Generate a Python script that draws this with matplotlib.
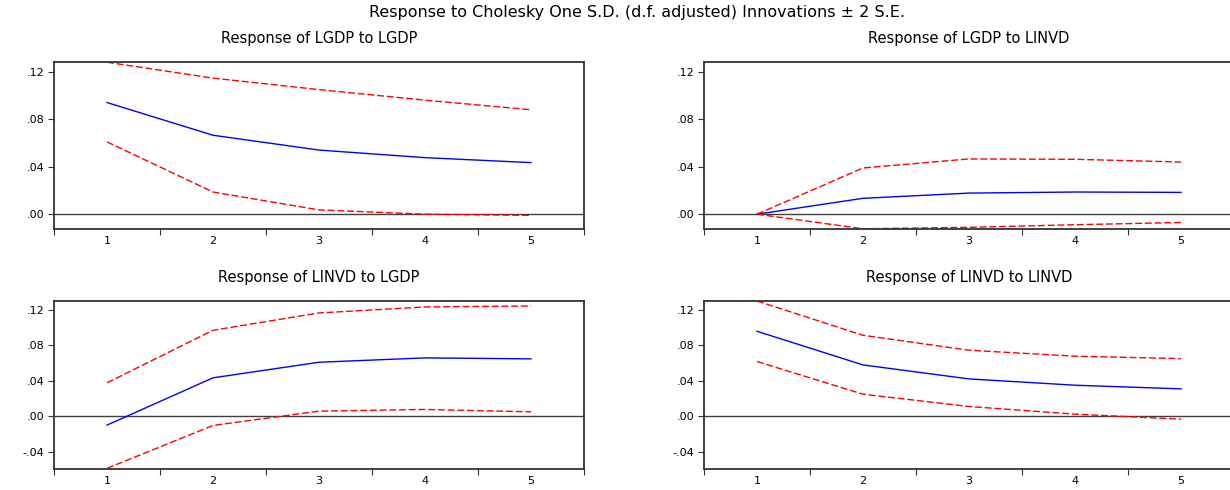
import matplotlib
matplotlib.use('Agg')
from matplotlib import pyplot as plt

# wide sans to get closer to the stretched EViews text
plt.rcParams['font.family'] = ['DejaVu Sans']

periods = [1, 2, 3, 4, 5]

# Response of LGDP to LGDP
gdp_gdp = [0.0942, 0.0666, 0.0541, 0.0477, 0.0435]
gdp_gdp_hi = [0.1282, 0.1148, 0.1051, 0.0962, 0.0881]
gdp_gdp_lo = [0.0610, 0.0187, 0.0036, 0.0000, -0.0010]

# Response of LGDP to LINVD
gdp_inv = [0.0, 0.0134, 0.0178, 0.0187, 0.0184]
gdp_inv_hi = [0.0, 0.0390, 0.0466, 0.0463, 0.0440]
gdp_inv_lo = [0.0, -0.0123, -0.0111, -0.0089, -0.0070]

# Response of LINVD to LGDP
inv_gdp = [-0.0097, 0.0434, 0.0609, 0.0658, 0.0647]
inv_gdp_hi = [0.0378, 0.0968, 0.1163, 0.1230, 0.1241]
inv_gdp_lo = [-0.0583, -0.0101, 0.0060, 0.0079, 0.0052]

# Response of LINVD to LINVD
inv_inv = [0.0957, 0.0579, 0.0422, 0.0351, 0.0310]
inv_inv_hi = [0.1297, 0.0912, 0.0744, 0.0677, 0.0650]
inv_inv_lo = [0.0617, 0.0250, 0.0112, 0.0026, -0.0030]

titles = ['Response of LGDP to LGDP', 'Response of LGDP to LINVD',
          'Response of LINVD to LGDP', 'Response of LINVD to LINVD']
series = [(gdp_gdp, gdp_gdp_hi, gdp_gdp_lo), (gdp_inv, gdp_inv_hi, gdp_inv_lo),
          (inv_gdp, inv_gdp_hi, inv_gdp_lo), (inv_inv, inv_inv_hi, inv_inv_lo)]

top_ticks = [0.0, 0.04, 0.08, 0.12]
top_labels = ['.00', '.04', '.08', '.12']
bot_ticks = [-0.04, 0.0, 0.04, 0.08, 0.12]
bot_labels = ['-.04', '.00', '.04', '.08', '.12']

W, H = 1230, 490
fig = plt.figure(figsize=(12.3, 4.9), dpi=100)

# axes boxes in pixels: (left, top, right, bottom)
boxes = [(54, 62, 584, 229), (704, 62, 1234, 229),
         (54, 301, 584, 469), (704, 301, 1234, 469)]

for i, (box, title, (mid, hi, lo)) in enumerate(zip(boxes, titles, series)):
    l, t, r, b = box
    ax = fig.add_axes([l / W, 1 - b / H, (r - l) / W, (b - t) / H])
    ax.axhline(0, color='#404040', lw=1.0)
    ax.plot(periods, mid, color='blue', lw=1.0)
    ax.plot(periods, hi, color='red', lw=1.0, dashes=(5, 2))
    ax.plot(periods, lo, color='red', lw=1.0, dashes=(5, 2))
    ax.set_xlim(0.5, 5.5)
    ax.set_xticks(periods)
    ax.set_xticks([0.5, 1.5, 2.5, 3.5, 4.5, 5.5], minor=True)
    ax.tick_params(axis='x', which='major', length=0, pad=5, labelsize=8)
    ax.tick_params(axis='x', which='minor', length=4, width=0.8, color='#333333')
    if i < 2:
        ax.set_ylim(-0.0125, 0.1284)
        ax.set_yticks(top_ticks)
        ax.set_yticklabels(top_labels)
    else:
        ax.set_ylim(-0.059, 0.1297)
        ax.set_yticks(bot_ticks)
        ax.set_yticklabels(bot_labels)
    ax.tick_params(axis='y', length=4, width=0.8, color='#333333', pad=3, labelsize=8)
    for s in ax.spines.values():
        s.set_color('#333333')
        s.set_linewidth(1.3)
    ax.set_title(title, fontsize=10.5, pad=14)

fig.text(637 / W, 1 - 13 / H, 'Response to Cholesky One S.D. (d.f. adjusted) Innovations \u00b1 2 S.E.',
         ha='center', va='center', fontsize=11.5)

fig.savefig('out.png', dpi=100)
